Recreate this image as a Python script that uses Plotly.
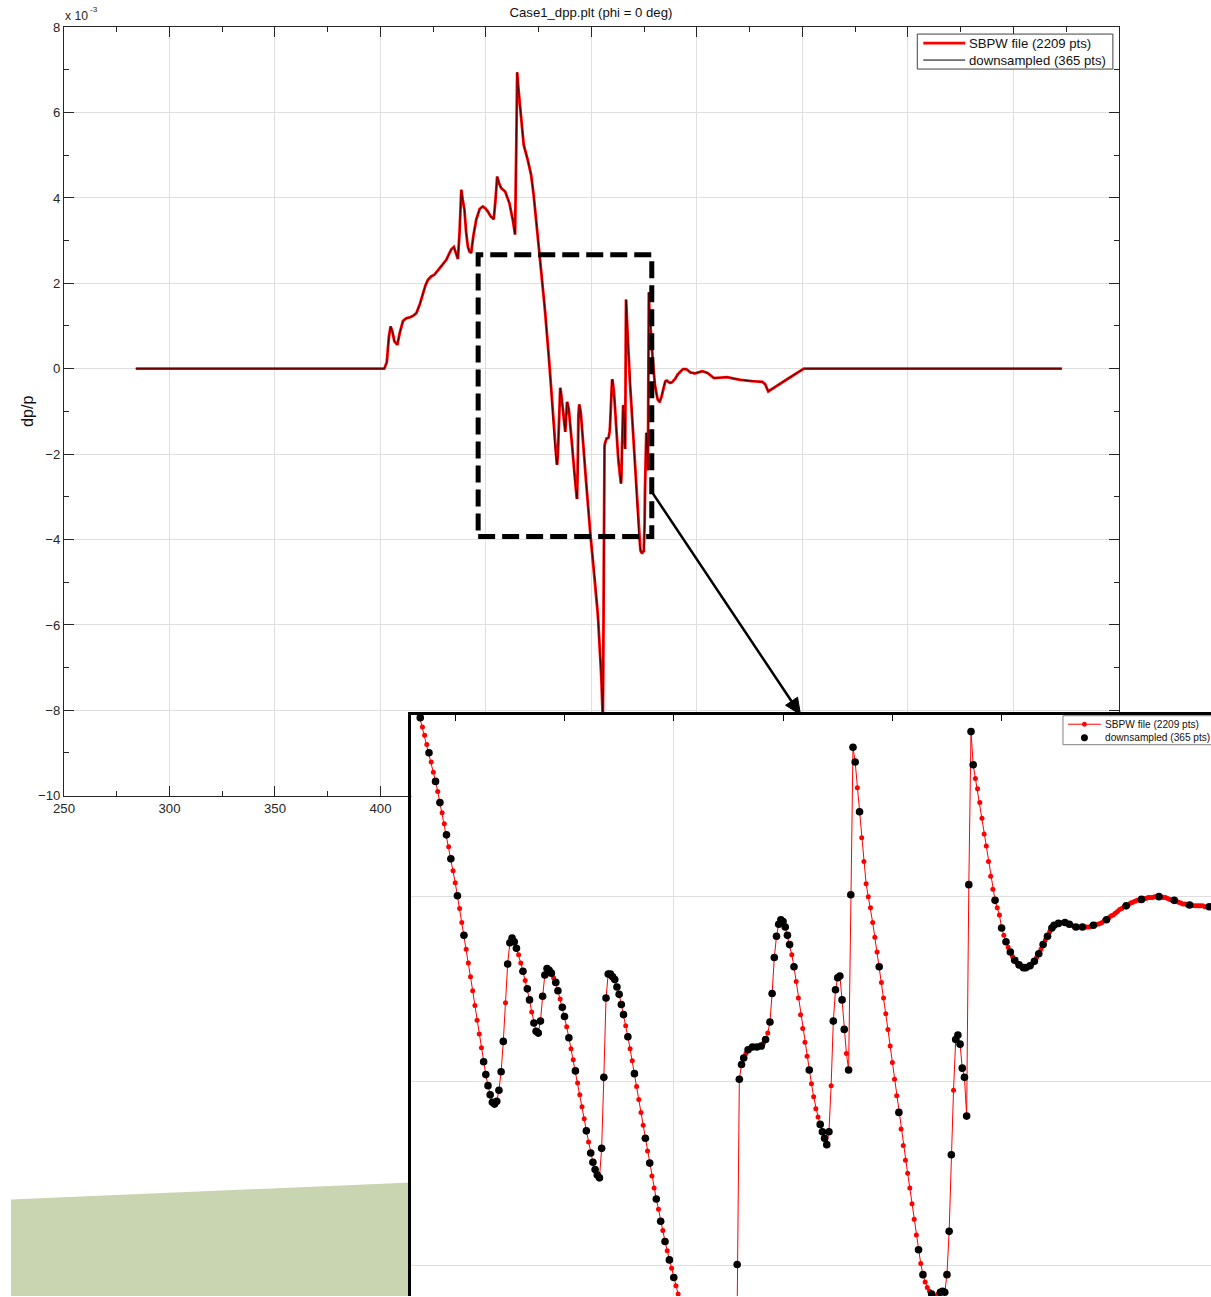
import plotly.graph_objects as go

# ---------------- data: dp/p in units of 1e-3 ----------------
# coarse samples before the zoomed window
pre_x = [284.0, 401.8, 403.0, 404.0, 404.8, 405.6, 406.6, 408.0, 409.2, 410.7, 412.2, 413.8, 415.5, 417.0,
         418.6, 420.1, 421.3, 422.5, 424.0, 425.6, 427.0, 428.0, 429.6, 431.2, 432.5, 433.5, 434.8, 435.8,
         436.7, 437.5, 438.3, 439.0, 439.8, 440.6, 441.4, 442.2, 443.0, 444.0, 445.4, 447.0, 448.5, 449.8,
         450.9, 452.3, 453.7, 454.6, 455.3, 456.2, 457.2, 459.1, 461.1, 462.7, 463.8, 464.3, 464.8, 465.5,
         466.3, 467.9, 469.8, 471.4, 472.6, 473.6, 474.5, 475.6]
pre_y = [0.0, 0.0, 0.15, 0.75, 0.99, 0.88, 0.64, 0.56, 0.85, 1.12, 1.18, 1.2, 1.24, 1.3,
         1.5, 1.77, 1.95, 2.08, 2.16, 2.2, 2.28, 2.36, 2.45, 2.55, 2.68, 2.79, 2.85, 2.68,
         2.57, 3.2, 4.19, 3.95, 3.72, 3.2, 2.86, 2.74, 2.71, 3.1, 3.49, 3.74, 3.8, 3.75,
         3.68, 3.56, 3.5, 4.0, 4.5, 4.35, 4.23, 4.15, 3.88, 3.49, 3.14, 4.89, 6.94, 6.5,
         6.06, 5.24, 4.89, 4.54, 4.07, 3.6, 3.02, 2.5]

# SBPW samples on the file grid inside the zoom window (start 476.8, step 0.2)
grid_x0, grid_dx = 476.8, 0.2
grid_y = [
    1.94, 1.84, 1.75, 1.65, 1.56, 1.46, 1.35, 1.25, 1.14, 1.02,
    0.91, 0.79, 0.67, 0.54, 0.41, 0.28, 0.15, 0.01, -0.13, -0.28,
    -0.42, -0.57, -0.72, -0.87, -1.02, -1.18, -1.34, -1.49, -1.64, -1.79,
    -1.93, -2.05, -2.15, -2.23, -2.25, -2.22, -2.10, -1.90, -1.57, -1.15,
    -0.73, -0.50, -0.45, -0.49, -0.56, -0.63, -0.72, -0.81, -0.91, -1.00,
    -1.12, -1.25, -1.37, -1.46, -1.48, -1.35, -1.08, -0.85, -0.78, -0.80,
    -0.83, -0.88, -0.93, -1.02, -1.11, -1.20, -1.30, -1.41, -1.53, -1.65,
    -1.77, -1.89, -2.02, -2.15, -2.28, -2.41, -2.54, -2.66, -2.78, -2.88,
    -2.96, -3.02, -3.05, -2.73, -1.96, -1.10, -0.84, -0.84, -0.87, -0.90,
    -0.98, -1.06, -1.17, -1.28, -1.40, -1.52, -1.65, -1.78, -1.92, -2.06,
    -2.20, -2.34, -2.48, -2.62, -2.76, -2.89, -3.03, -3.16, -3.28, -3.39,
    -3.52, -3.62, -3.74, -3.84, -3.94, -4.03, -4.13, -4.22, -4.31, -4.40,
    -4.49, -4.58, -4.68, -4.78, -4.88, -4.99, -5.10, -5.22, -5.34, -5.47,
    -5.60, -5.74, -5.89, -6.04, -6.20, -6.37, -6.55, -6.74, -6.94, -7.15,
    -7.38, -7.62, -7.90, -8.25, -7.00, -3.99, -1.98, -1.82, -1.75, -1.70,
    -1.66, -1.64, -1.63, -1.63, -1.63, -1.63, -1.62, -1.59, -1.55, -1.48,
    -1.36, -1.05, -0.66, -0.43, -0.30, -0.25, -0.27, -0.33, -0.42, -0.52,
    -0.63, -0.76, -0.92, -1.10, -1.28, -1.43, -1.58, -1.73, -1.88, -2.03,
    -2.17, -2.30, -2.39, -2.47, -2.55, -2.62, -2.69, -2.55, -2.05, -1.35,
    -1.01, -0.88, -0.86, -1.12, -1.44, -1.70, -1.88, 0.02, 1.62, 1.46,
    1.18, 0.92, 0.64, 0.38, 0.14, 0.00, -0.12, -0.28, -0.44, -0.60,
    -0.76, -0.93, -1.10, -1.27, -1.44, -1.62, -1.80, -1.98, -2.16, -2.34,
    -2.52, -2.70, -2.86, -3.00, -3.16, -3.33, -3.50, -3.67, -3.83, -3.98,
    -4.10, -4.18, -4.24, -4.28, -4.31, -4.33, -4.33, -4.31, -4.29, -4.28,
    -4.29, -4.10, -3.63, -2.80, -2.10, -1.55, -1.50, -1.60, -1.86, -1.96,
    -2.38, 0.13, 1.79, 1.43, 1.28, 1.17, 1.02, 0.85, 0.68, 0.55,
    0.38, 0.22, 0.08, -0.04, -0.12, -0.20, -0.34, -0.42, -0.49, -0.55,
    -0.60, -0.65, -0.69, -0.72, -0.74, -0.76, -0.77, -0.77, -0.77, -0.75,
    -0.73, -0.70, -0.66, -0.62, -0.57, -0.52, -0.47, -0.43, -0.38, -0.34,
    -0.31, -0.30, -0.29, -0.28, -0.28, -0.28, -0.29, -0.30, -0.31, -0.32,
    -0.33, -0.33, -0.33, -0.33, -0.33, -0.33, -0.33, -0.32, -0.31, -0.30,
    -0.30, -0.29, -0.28, -0.26, -0.25, -0.23, -0.21, -0.20, -0.18, -0.16,
    -0.14, -0.13, -0.11, -0.10, -0.09, -0.07, -0.06, -0.05, -0.04, -0.04,
    -0.03, -0.02, -0.02, -0.01, -0.01, -0.01, 0.00, 0.00, 0.00, 0.00,
    -0.01, -0.01, -0.02, -0.03, -0.04, -0.04, -0.05, -0.06, -0.07, -0.08,
    -0.08, -0.09, -0.09, -0.09, -0.10, -0.10, -0.10, -0.10, -0.10, -0.11,
    -0.11, -0.11, -0.11,
]
# indices of the grid samples retained by the downsampling
grid_keep = [0, 4, 7, 9, 12, 14, 17, 20, 29, 30, 31, 32, 33, 34, 35, 36, 37, 38, 40, 41, 42, 43, 44,
             47, 49, 50, 52, 53, 54, 55, 56, 57, 58, 59, 60, 62, 63, 65, 66, 68, 71, 76, 78, 79, 80,
             81, 82, 83, 84, 85, 86, 87, 88, 89, 90, 91, 92, 93, 95, 98, 103, 105, 108, 110, 112,
             114, 116, 120, 125, 130, 135, 139, 142, 143, 144, 145, 146, 147, 148, 150, 152, 154,
             156, 158, 160, 161, 162, 163, 164, 165, 166, 167, 168, 169, 171, 178, 183, 184, 185,
             186, 187, 189, 190, 191, 192, 193, 194, 196, 197, 198, 199, 201, 210, 219, 228, 230,
             234, 238, 239, 240, 241, 242, 243, 245, 246, 247, 248, 249, 250, 251, 252, 253, 263,
             266, 268, 270, 272, 274, 276, 277, 279, 281, 283, 285, 287, 289, 290, 292, 295, 297,
             300, 303, 308, 314, 323, 330, 338, 345, 352, 361]

# coarse samples after the zoomed window
post_x = [552.6, 555.0, 558.1, 561.0, 564.4, 567.5, 570.7, 576.0, 581.0, 582.3, 583.8, 592.0, 600.7, 723.0]
post_y = [-0.06, -0.1, -0.22, -0.21, -0.2, -0.23, -0.26, -0.29, -0.31, -0.36, -0.53, -0.27, 0.0, 0.0]

grid_x = [round(grid_x0 + grid_dx * k, 2) for k in range(len(grid_y))]
sbpw_x = pre_x + grid_x + post_x
sbpw_y = pre_y + grid_y + post_y
ds_x = pre_x + [grid_x[k] for k in grid_keep] + post_x
ds_y = pre_y + [grid_y[k] for k in grid_keep] + post_y

name_full = "SBPW file (2209 pts)"
name_ds = "downsampled (365 pts)"
title = "Case1_dpp.plt (phi = 0 deg)"

FONT = "Liberation Sans, Arial, Helvetica, sans-serif"
AX = "#262626"
GRID = "#dfdfdf"

# page -> picture calibration (page margin and slight capture scaling)
PAD = 8
S_X, S_Y = 0.984, 0.989
C_X, C_Y = 1.0, -1.0
W, H = 1222, 1304
FS = 1 / 0.986


def fig_px_x(p):
    return (p - C_X) / S_X - PAD


def fig_px_y(p):
    return (p - C_Y) / S_Y - PAD


def px_x(p):
    return fig_px_x(p) / W


def px_y(p):
    return 1 - fig_px_y(p) / H


# inset axis calibration (x=500 at 673 px, 10.95 px/unit; y=0 at 897 px, 92.25 px/unit)
right_px = C_X + S_X * (W + PAD)
bottom_px = C_Y + S_Y * (H + PAD)
inset_xr = [500 + (410 - 673) / 10.95, 500 + (right_px - 673) / 10.95]
inset_yr = [(897 - bottom_px) / 92.25, (897 - 715) / 92.25]

fig = go.Figure()
# main axes
fig.add_trace(go.Scatter(x=sbpw_x, y=sbpw_y, mode="lines", name=name_full, showlegend=False,
                         line=dict(color="#ff0000", width=2.8), xaxis="x", yaxis="y"))
fig.add_trace(go.Scatter(x=ds_x, y=ds_y, mode="lines", name=name_ds, showlegend=False,
                         line=dict(color="#000000", width=0.7), xaxis="x", yaxis="y"))
# zoom inset
fig.add_trace(go.Scatter(x=sbpw_x, y=sbpw_y, mode="lines+markers", name=name_full, showlegend=False,
                         line=dict(color="#ff0000", width=1), marker=dict(color="#ff0000", size=5),
                         xaxis="x2", yaxis="y2"))
fig.add_trace(go.Scatter(x=ds_x, y=ds_y, mode="markers", name=name_ds, showlegend=False,
                         marker=dict(color="#000000", size=7.6), xaxis="x2", yaxis="y2"))

fig.update_layout(
    width=W, height=H, autosize=False,
    margin=dict(l=0, r=0, t=0, b=0, pad=0),
    paper_bgcolor="white", plot_bgcolor="white",
    font=dict(family=FONT, size=13 * FS, color=AX),
    showlegend=False,
    title=dict(text=title, x=px_x(590), xanchor="center", xref="paper",
               y=px_y(12), yanchor="middle", yref="paper",
               font=dict(family=FONT, size=13 * FS, color="#111")),
    xaxis=dict(domain=[px_x(62), px_x(1119)], range=[250, 750], tick0=250, dtick=50,
               ticks="inside", ticklen=10, tickcolor=AX, showline=True, linecolor=AX, linewidth=1,
               mirror="ticks", showgrid=True, gridcolor=GRID, gridwidth=1, zeroline=False,
               tickfont=dict(size=13 * FS, color=AX),
               minor=dict(dtick=25, ticks="inside", ticklen=5, tickcolor=AX, showgrid=False)),
    yaxis=dict(domain=[px_y(796), px_y(27)], range=[-10, 8], tick0=0, dtick=2,
               ticks="inside", ticklen=10, tickcolor=AX, showline=True, linecolor=AX, linewidth=1,
               mirror="ticks", showgrid=True, gridcolor=GRID, gridwidth=1, zeroline=False,
               tickfont=dict(size=13 * FS, color=AX),
               minor=dict(dtick=1, ticks="inside", ticklen=5, tickcolor=AX, showgrid=False)),
    xaxis2=dict(domain=[px_x(410), 1.0], range=inset_xr, side="top", anchor="y2",
                tick0=0, dtick=50, ticks="inside", ticklen=7, tickcolor="#000",
                showline=True, linecolor="#000", linewidth=2.5, mirror=False,
                showgrid=True, gridcolor=GRID, zeroline=False, showticklabels=False,
                minor=dict(dtick=10, ticks="inside", ticklen=7, tickcolor="#000", showgrid=False)),
    yaxis2=dict(domain=[0.0, px_y(715)], range=inset_yr, side="left", anchor="x2",
                tick0=0, dtick=2, ticks="",
                showline=True, linecolor="#000", linewidth=2.5, mirror=False,
                showgrid=True, gridcolor=GRID, zeroline=False, showticklabels=False),
)

shapes = []
# green slide decoration (bottom-left)
shapes.append(dict(type="path", xref="paper", yref="paper", layer="below",
                   path=f"M 0,{px_y(1200)} L {px_x(410)},{px_y(1183)} L {px_x(410)},0 L 0,0 Z",
                   fillcolor="#c9d4b0", line=dict(width=0)))
# dashed zoom rectangle on the main axes
shapes.append(dict(type="rect", xref="x", yref="y", x0=446.3, x1=528.6, y0=-3.93, y1=2.67,
                   line=dict(color="black", width=5, dash="17px,7px"), layer="above"))
# arrow from the zoom box to the inset
shapes.append(dict(type="line", xref="paper", yref="paper", layer="above",
                   x0=px_x(651), y0=px_y(492), x1=px_x(792), y1=px_y(703),
                   line=dict(color="black", width=2.5)))
shapes.append(dict(type="path", xref="paper", yref="paper", layer="above",
                   path=(f"M {px_x(800)},{px_y(715)} L {px_x(797)},{px_y(697.5)} "
                         f"L {px_x(785)},{px_y(705.5)} Z"),
                   fillcolor="black", line=dict(color="black", width=1)))
# main legend (box, samples)
shapes.append(dict(type="rect", xref="paper", yref="paper", layer="above",
                   x0=px_x(917), x1=px_x(1113), y0=px_y(69), y1=px_y(34),
                   fillcolor="white", line=dict(color="#404040", width=1)))
shapes.append(dict(type="line", xref="paper", yref="paper", layer="above",
                   x0=px_x(923), x1=px_x(965), y0=px_y(43), y1=px_y(43),
                   line=dict(color="#ff0000", width=2.8)))
shapes.append(dict(type="line", xref="paper", yref="paper", layer="above",
                   x0=px_x(923), x1=px_x(965), y0=px_y(60), y1=px_y(60),
                   line=dict(color="#000000", width=1)))
# inset legend (box, samples)
shapes.append(dict(type="rect", xref="paper", yref="paper", layer="above",
                   x0=px_x(1063), x1=px_x(1240), y0=px_y(745), y1=px_y(716),
                   fillcolor="white", line=dict(color="#808080", width=1)))
shapes.append(dict(type="line", xref="paper", yref="paper", layer="above",
                   x0=px_x(1068), x1=px_x(1101), y0=px_y(724.5), y1=px_y(724.5),
                   line=dict(color="#ff0000", width=1)))
shapes.append(dict(type="circle", xref="paper", yref="paper", layer="above",
                   x0=px_x(1082), x1=px_x(1087), y0=px_y(727), y1=px_y(722),
                   fillcolor="#ff0000", line=dict(color="#ff0000", width=0)))
shapes.append(dict(type="circle", xref="paper", yref="paper", layer="above",
                   x0=px_x(1081), x1=px_x(1088), y0=px_y(741.5), y1=px_y(734.5),
                   fillcolor="#000000", line=dict(color="#000000", width=0)))
fig.update_layout(shapes=shapes)

annotations = [
    dict(x=px_x(62), y=px_y(16), text="x 10", xanchor="left", yanchor="middle",
         font=dict(family=FONT, size=12 * FS, color=AX)),
    dict(x=px_x(87.5), y=px_y(9.5), text="-3", xanchor="left", yanchor="middle",
         font=dict(family=FONT, size=8 * FS, color=AX)),
    dict(x=px_x(25), y=px_y(411), text="dp/p", textangle=-90, xanchor="center", yanchor="middle",
         font=dict(family=FONT, size=16 * FS, color="#111")),
    dict(x=px_x(968), y=px_y(43), text=name_full, xanchor="left", yanchor="middle",
         font=dict(family=FONT, size=13 * FS, color="#111")),
    dict(x=px_x(968), y=px_y(60), text=name_ds, xanchor="left", yanchor="middle",
         font=dict(family=FONT, size=13 * FS, color="#111")),
    dict(x=px_x(1104), y=px_y(724.5), text=name_full, xanchor="left", yanchor="middle",
         font=dict(family=FONT, size=10 * FS, color="#111")),
    dict(x=px_x(1104), y=px_y(738), text=name_ds, xanchor="left", yanchor="middle",
         font=dict(family=FONT, size=10 * FS, color="#111")),
]
for a in annotations:
    a.update(xref="paper", yref="paper", showarrow=False, borderpad=0)
fig.update_layout(annotations=annotations)

fig.write_html("out.html")
